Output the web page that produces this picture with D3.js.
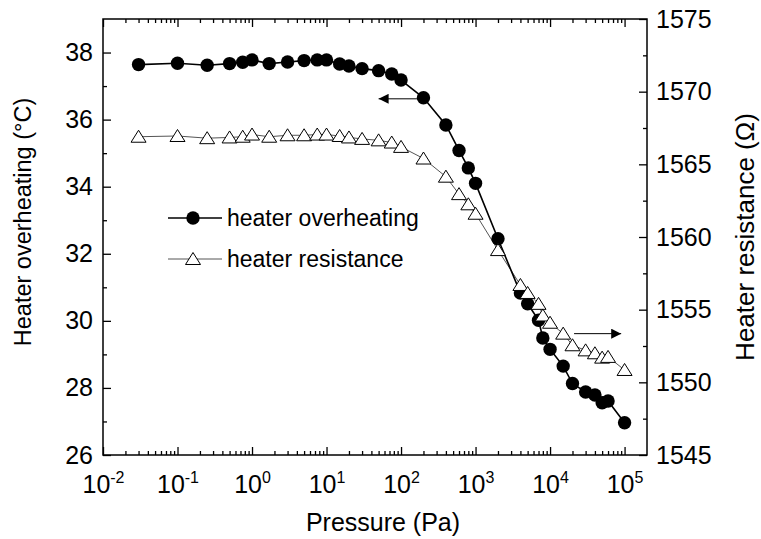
<!DOCTYPE html>
<html>
<head>
<meta charset="utf-8">
<script src="https://cdnjs.cloudflare.com/ajax/libs/d3/7.8.5/d3.min.js"></script>
<style>
body { margin: 0; background: #fff; }
text { font-family: "Liberation Sans", Arial, sans-serif; fill: #000; }
</style>
</head>
<body>
<div id="chart"></div>
<script>
// Pressure values (Pa), both series were measured at the same points
var pressure = [0.03, 0.1, 0.25, 0.5, 0.75, 1, 1.7, 3, 5, 7.5, 10, 15, 20, 30, 50, 75, 100,
    200, 400, 600, 800, 1000, 2000, 4000, 5000, 7000, 8000, 10000, 15000, 20000, 30000,
    40000, 50000, 60000, 100000];

// Heater overheating (°C) - left axis
var overheating = [37.64, 37.68, 37.62, 37.67, 37.71, 37.78, 37.67, 37.72, 37.76, 37.78, 37.78,
    37.66, 37.6, 37.52, 37.46, 37.36, 37.18, 36.65, 35.84, 35.08, 34.56, 34.1, 32.45, 30.83,
    30.51, 30.02, 29.49, 29.15, 28.65, 28.13, 27.88, 27.79, 27.56, 27.61, 26.96];

// Heater resistance (Ohm) - right axis
var resistance = [1566.9, 1566.95, 1566.8, 1566.85, 1566.9, 1567.05, 1566.9, 1567.0, 1567.0,
    1567.05, 1567.05, 1566.95, 1566.85, 1566.75, 1566.65, 1566.5, 1566.2, 1565.4, 1564.15,
    1562.95, 1562.25, 1561.6, 1559.1, 1556.7, 1556.15, 1555.4, 1554.6, 1554.1, 1553.35,
    1552.55, 1552.2, 1552.0, 1551.7, 1551.75, 1550.85];

// Tick values
var xMajorTicks = [1e-2, 1e-1, 1e0, 1e1, 1e2, 1e3, 1e4, 1e5];
var xMinorSteps = [2, 3, 4, 5, 6, 7, 8, 9];
var yLeftTicks = [26, 28, 30, 32, 34, 36, 38];
var yLeftMinor = [27, 29, 31, 33, 35, 37];
var yRightTicks = [1545, 1550, 1555, 1560, 1565, 1570, 1575];
var yRightMinor = [1547.5, 1552.5, 1557.5, 1562.5, 1567.5, 1572.5];

// Arrows pointing at the matching axis (pressure from -> to, y value)
var arrowLeft = [180, 50, 36.62];
var arrowRight = [21000, 90000, 1553.35];

var svgWidth = 761;
var svgHeight = 539;

var margin = { top: 19, right: 114, bottom: 84, left: 103 };

var chartWidth = svgWidth - margin.left - margin.right;
var chartHeight = svgHeight - margin.top - margin.bottom;

var svg = d3.select("#chart")
    .append("svg")
    .attr("width", svgWidth)
    .attr("height", svgHeight);

var chartGroup = svg.append("g")
    .attr("transform", `translate(${margin.left}, ${margin.top})`);

// Scales
var xScale = d3.scaleLog()
    .domain([1e-2, 2e5])
    .range([0, chartWidth]);

var yLeft = d3.scaleLinear()
    .domain([26, 39])
    .range([chartHeight, 0]);

var yRight = d3.scaleLinear()
    .domain([1545, 1575])
    .range([chartHeight, 0]);

var xMinorTicks = [];
xMajorTicks.forEach(function(m) {
    xMinorSteps.forEach(function(s) {
        if (m * s < 2e5) xMinorTicks.push(m * s);
    });
});

// Axes - all ticks point inwards
var bottomAxis = d3.axisBottom(xScale).tickValues(xMajorTicks).tickSizeInner(-8).tickSizeOuter(0).tickPadding(20);
var bottomMinor = d3.axisBottom(xScale).tickValues(xMinorTicks).tickSizeInner(-4).tickSizeOuter(0).tickFormat("");
var topAxis = d3.axisTop(xScale).tickValues(xMajorTicks).tickSizeInner(-8).tickSizeOuter(0).tickFormat("");
var topMinor = d3.axisTop(xScale).tickValues(xMinorTicks).tickSizeInner(-4).tickSizeOuter(0).tickFormat("");
var leftAxis = d3.axisLeft(yLeft).tickValues(yLeftTicks).tickSizeInner(-8).tickSizeOuter(0).tickPadding(10);
var leftMinor = d3.axisLeft(yLeft).tickValues(yLeftMinor).tickSizeInner(-4).tickSizeOuter(0).tickFormat("");
var rightAxis = d3.axisRight(yRight).tickValues(yRightTicks).tickSizeInner(-8).tickSizeOuter(0).tickPadding(9)
    .tickFormat(d3.format("d"));
var rightMinor = d3.axisRight(yRight).tickValues(yRightMinor).tickSizeInner(-4).tickSizeOuter(0).tickFormat("");

var xAxisG = chartGroup.append("g")
    .attr("transform", `translate(0, ${chartHeight})`)
    .call(bottomAxis);
chartGroup.append("g")
    .attr("transform", `translate(0, ${chartHeight})`)
    .call(bottomMinor);
chartGroup.append("g").call(topAxis);
chartGroup.append("g").call(topMinor);
chartGroup.append("g").call(leftAxis);
chartGroup.append("g").call(leftMinor);
chartGroup.append("g")
    .attr("transform", `translate(${chartWidth}, 0)`)
    .call(rightAxis);
chartGroup.append("g")
    .attr("transform", `translate(${chartWidth}, 0)`)
    .call(rightMinor);

chartGroup.selectAll(".domain").remove();
chartGroup.selectAll(".tick line").attr("stroke", "#000").attr("stroke-width", 1.3);
chartGroup.selectAll(".tick text")
    .attr("font-family", "Liberation Sans, Arial, sans-serif")
    .attr("font-size", 25);

// Powers of ten with superscript exponent
xAxisG.selectAll(".tick text").each(function(d) {
    var t = d3.select(this);
    var e = Math.round(Math.log10(d));
    t.text(null);
    t.append("tspan").text("10");
    t.append("tspan").attr("dy", -10).attr("font-size", 16).text(e);
});

// Frame
chartGroup.append("rect")
    .attr("width", chartWidth)
    .attr("height", chartHeight)
    .attr("fill", "none")
    .attr("stroke", "#000")
    .attr("stroke-width", 1.5);

var points = pressure.map(function(p, i) {
    return { p: p, t: overheating[i], r: resistance[i] };
});

// Lines
var lineT = d3.line().x(d => xScale(d.p)).y(d => yLeft(d.t));
var lineR = d3.line().x(d => xScale(d.p)).y(d => yRight(d.r));

chartGroup.append("path")
    .datum(points)
    .attr("d", lineR)
    .attr("fill", "none")
    .attr("stroke", "#555")
    .attr("stroke-width", 1);

chartGroup.append("path")
    .datum(points)
    .attr("d", lineT)
    .attr("fill", "none")
    .attr("stroke", "#000")
    .attr("stroke-width", 1.6);

// Markers
var triangle = "M0,-6.5L7.5,5.5L-7.5,5.5Z";

chartGroup.selectAll("circle.overheat")
    .data(points)
    .enter()
    .append("circle")
    .attr("class", "overheat")
    .attr("cx", d => xScale(d.p))
    .attr("cy", d => yLeft(d.t))
    .attr("r", 6.7)
    .attr("fill", "#000");

chartGroup.selectAll("path.resist")
    .data(points)
    .enter()
    .append("path")
    .attr("class", "resist")
    .attr("d", triangle)
    .attr("transform", d => `translate(${xScale(d.p)}, ${yRight(d.r)})`)
    .attr("fill", "#fff")
    .attr("stroke", "#000")
    .attr("stroke-width", 1);

// Arrows
svg.append("defs").append("marker")
    .attr("id", "head")
    .attr("viewBox", "0 0 10 10")
    .attr("refX", 10)
    .attr("refY", 5)
    .attr("markerUnits", "userSpaceOnUse")
    .attr("markerWidth", 16)
    .attr("markerHeight", 10)
    .attr("orient", "auto")
    .append("path")
    .attr("d", "M0,0L10,5L0,10Z")
    .attr("fill", "#000");

chartGroup.append("line")
    .attr("x1", xScale(arrowLeft[0]))
    .attr("x2", xScale(arrowLeft[1]))
    .attr("y1", yLeft(arrowLeft[2]))
    .attr("y2", yLeft(arrowLeft[2]))
    .attr("stroke", "#000")
    .attr("stroke-width", 1)
    .attr("marker-end", "url(#head)");

chartGroup.append("line")
    .attr("x1", xScale(arrowRight[0]))
    .attr("x2", xScale(arrowRight[1]))
    .attr("y1", yRight(arrowRight[2]))
    .attr("y2", yRight(arrowRight[2]))
    .attr("stroke", "#000")
    .attr("stroke-width", 1)
    .attr("marker-end", "url(#head)");

// Legend
var legend = svg.append("g").attr("transform", "translate(168, 218)");

legend.append("line").attr("x1", 0).attr("x2", 54).attr("y1", 0).attr("y2", 0)
    .attr("stroke", "#000").attr("stroke-width", 1.6);
legend.append("circle").attr("cx", 25).attr("cy", 0).attr("r", 6.7).attr("fill", "#000");
legend.append("text").attr("x", 59).attr("y", 0).attr("dy", "0.35em")
    .attr("font-size", 23).text("heater overheating");

legend.append("line").attr("x1", 0).attr("x2", 54).attr("y1", 41).attr("y2", 41)
    .attr("stroke", "#555").attr("stroke-width", 1);
legend.append("path").attr("d", triangle)
    .attr("transform", "translate(25, 41)")
    .attr("fill", "#fff").attr("stroke", "#000").attr("stroke-width", 1);
legend.append("text").attr("x", 59).attr("y", 41).attr("dy", "0.35em")
    .attr("font-size", 23).text("heater resistance");

// Axis titles
svg.append("text")
    .attr("transform", "translate(23, 222) rotate(-90)")
    .attr("text-anchor", "middle")
    .attr("dy", "0.35em")
    .attr("font-size", 23.5)
    .text("Heater overheating (°C)");

svg.append("text")
    .attr("transform", `translate(745, ${margin.top + chartHeight / 2}) rotate(-90)`)
    .attr("text-anchor", "middle")
    .attr("dy", "0.35em")
    .attr("font-size", 26)
    .text("Heater resistance (Ω)");

svg.append("text")
    .attr("x", 383)
    .attr("y", 522)
    .attr("text-anchor", "middle")
    .attr("dy", "0.35em")
    .attr("font-size", 25)
    .text("Pressure (Pa)");
</script>
</body>
</html>
